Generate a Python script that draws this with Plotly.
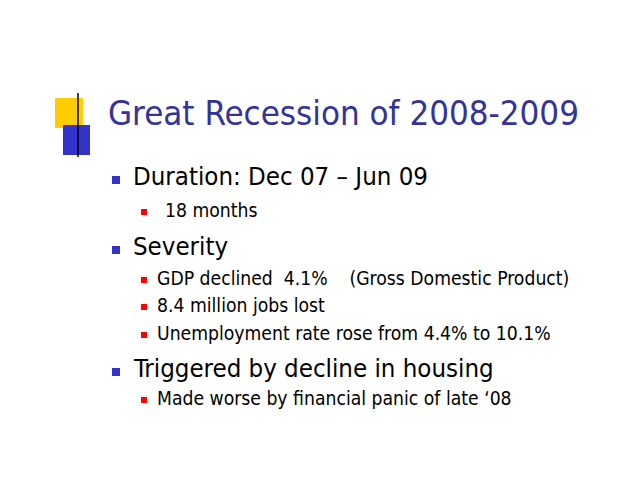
import plotly.graph_objects as go

# ---- content ----
title_text = "Great Recession of 2008-2009"
level1_texts = ["Duration: Dec 07 – Jun 09", "Severity", "Triggered by decline in housing"]
level2_texts = [
    "18 months",
    "GDP declined\u00a0\u00a04.1%\u00a0\u00a0\u00a0\u00a0(Gross Domestic Product)",
    "8.4 million jobs lost",
    "Unemployment rate rose from 4.4% to 10.1%",
    "Made worse by financial panic of late \u201808",
]

# ---- layout constants (pixel space) ----
W, H = 638, 493
OFF = 8  # default page body margin
FONT = "DejaVu Sans Condensed, DejaVu Sans"
title_size = 34.6
l1_size = 25.6
l2_size = 19.2
l1_baselines = [185, 255, 377]
l2_baselines = [217, 285, 312, 340, 405]
l2_x = [163, 155, 155, 155, 155]
l1_x = 131
title_x = 106
l1_bullet_x = 116
l2_bullet_x = 144

def center(baseline, size):
    return baseline - 0.36 * size

fig = go.Figure()

fig.add_trace(go.Scatter(
    x=[l1_bullet_x] * len(level1_texts),
    y=[b - 5 for b in l1_baselines],
    mode="markers",
    marker=dict(symbol="square", size=8, color="#3333CC", line=dict(width=0)),
    hoverinfo="skip", showlegend=False,
))
fig.add_trace(go.Scatter(
    x=[l2_bullet_x] * len(level2_texts),
    y=[b - 5 for b in l2_baselines],
    mode="markers",
    marker=dict(symbol="square", size=6, color="#FF0000", line=dict(width=0)),
    hoverinfo="skip", showlegend=False,
))

shapes = [
    dict(type="rect", x0=55, x1=83, y0=98, y1=128, fillcolor="#FFCC00", line=dict(width=0), layer="below"),
    dict(type="rect", x0=63, x1=90, y0=125, y1=155, fillcolor="#3333CC", line=dict(width=0), layer="below"),
    dict(type="line", x0=78, x1=78, y0=93, y1=157, line=dict(color="#000000", width=1.5)),
]

annotations = [dict(
    x=title_x, y=center(125, title_size), text=title_text, showarrow=False,
    xanchor="left", yanchor="middle", font=dict(family=FONT, size=title_size, color="#333399"),
)]
for t, b in zip(level1_texts, l1_baselines):
    annotations.append(dict(x=l1_x, y=center(b, l1_size), text=t, showarrow=False,
                            xanchor="left", yanchor="middle",
                            font=dict(family=FONT, size=l1_size, color="#000000")))
for t, b, xx in zip(level2_texts, l2_baselines, l2_x):
    annotations.append(dict(x=xx, y=center(b, l2_size), text=t, showarrow=False,
                            xanchor="left", yanchor="middle",
                            font=dict(family=FONT, size=l2_size, color="#000000")))

fig.update_layout(
    width=W - OFF, height=H - OFF,
    margin=dict(l=0, r=0, t=0, b=0),
    paper_bgcolor="white", plot_bgcolor="white",
    xaxis=dict(range=[OFF, W], visible=False, fixedrange=True),
    yaxis=dict(range=[H, OFF], visible=False, fixedrange=True),
    shapes=shapes, annotations=annotations,
)

fig.write_html("out.html", config={"displayModeBar": False})
